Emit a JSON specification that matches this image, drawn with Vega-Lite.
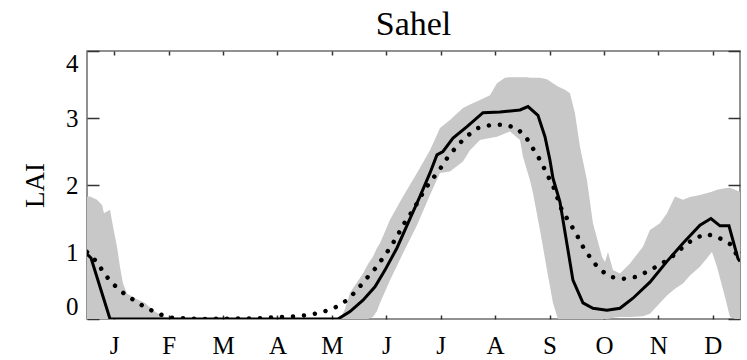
{
  "$schema": "https://vega.github.io/schema/vega-lite/v6.json",
  "width": 653,
  "height": 268,
  "autosize": {"type": "none"},
  "padding": {"left": 87, "top": 51, "right": 7, "bottom": 41},
  "background": "white",
  "title": {"text": "Sahel", "font": "Liberation Serif", "fontSize": 34, "fontWeight": "normal", "color": "black", "anchor": "middle", "baseline": "alphabetic", "offset": 15, "dy": 34},
  "config": {
    "view": {"stroke": "#6e6e6e", "strokeWidth": 1.5},
    "axis": {"labelFont": "Liberation Serif", "labelFontSize": 25, "labelColor": "black", "titleFont": "Liberation Serif", "titleFontSize": 27, "titleFontWeight": "normal", "titleColor": "black", "grid": false, "domain": false, "tickColor": "#333", "tickWidth": 1.5}
  },
  "datasets": {
    "band": [
      {"m": 0.000, "hi": 1.83, "lo": 0},
      {"m": 0.055, "hi": 1.83, "lo": 0},
      {"m": 0.184, "hi": 1.78, "lo": 0},
      {"m": 0.276, "hi": 1.70, "lo": 0},
      {"m": 0.312, "hi": 1.58, "lo": 0},
      {"m": 0.423, "hi": 1.63, "lo": 0},
      {"m": 0.478, "hi": 1.38, "lo": 0},
      {"m": 0.551, "hi": 1.08, "lo": 0},
      {"m": 0.606, "hi": 0.78, "lo": 0},
      {"m": 0.662, "hi": 0.53, "lo": 0},
      {"m": 0.735, "hi": 0.38, "lo": 0},
      {"m": 0.882, "hi": 0.31, "lo": 0},
      {"m": 1.066, "hi": 0.24, "lo": 0},
      {"m": 1.250, "hi": 0.11, "lo": 0},
      {"m": 1.433, "hi": 0.03, "lo": 0},
      {"m": 1.562, "hi": 0.00, "lo": 0},
      {"m": 4.649, "hi": 0.00, "lo": 0},
      {"m": 4.741, "hi": 0.15, "lo": 0},
      {"m": 4.833, "hi": 0.39, "lo": 0},
      {"m": 5.072, "hi": 0.68, "lo": 0},
      {"m": 5.164, "hi": 0.82, "lo": 0},
      {"m": 5.255, "hi": 0.93, "lo": 0.03},
      {"m": 5.329, "hi": 1.06, "lo": 0.12},
      {"m": 5.384, "hi": 1.13, "lo": 0.24},
      {"m": 5.568, "hi": 1.48, "lo": 0.58},
      {"m": 5.807, "hi": 1.83, "lo": 0.98},
      {"m": 6.064, "hi": 2.18, "lo": 1.40},
      {"m": 6.303, "hi": 2.52, "lo": 1.85},
      {"m": 6.487, "hi": 2.85, "lo": 2.18},
      {"m": 6.670, "hi": 2.97, "lo": 2.20},
      {"m": 6.909, "hi": 3.15, "lo": 2.35},
      {"m": 7.038, "hi": 3.20, "lo": 2.52},
      {"m": 7.222, "hi": 3.27, "lo": 2.67},
      {"m": 7.405, "hi": 3.34, "lo": 2.70},
      {"m": 7.534, "hi": 3.52, "lo": 2.72},
      {"m": 7.681, "hi": 3.60, "lo": 2.77},
      {"m": 7.773, "hi": 3.61, "lo": 2.80},
      {"m": 7.957, "hi": 3.61, "lo": 2.67},
      {"m": 8.012, "hi": 3.61, "lo": 2.42},
      {"m": 8.085, "hi": 3.61, "lo": 2.22},
      {"m": 8.140, "hi": 3.60, "lo": 2.07},
      {"m": 8.195, "hi": 3.60, "lo": 1.88},
      {"m": 8.324, "hi": 3.60, "lo": 1.33},
      {"m": 8.453, "hi": 3.58, "lo": 0.73},
      {"m": 8.563, "hi": 3.52, "lo": 0.24},
      {"m": 8.655, "hi": 3.47, "lo": 0},
      {"m": 8.784, "hi": 3.42, "lo": 0},
      {"m": 8.875, "hi": 3.37, "lo": 0},
      {"m": 8.967, "hi": 3.07, "lo": 0},
      {"m": 9.059, "hi": 2.57, "lo": 0},
      {"m": 9.188, "hi": 2.07, "lo": 0},
      {"m": 9.298, "hi": 1.43, "lo": 0},
      {"m": 9.464, "hi": 0.93, "lo": 0},
      {"m": 9.519, "hi": 0.85, "lo": 0},
      {"m": 9.574, "hi": 1.00, "lo": 0},
      {"m": 9.666, "hi": 0.73, "lo": 0.02},
      {"m": 9.794, "hi": 0.68, "lo": 0.03},
      {"m": 9.978, "hi": 0.83, "lo": 0.03},
      {"m": 10.217, "hi": 1.08, "lo": 0.04},
      {"m": 10.345, "hi": 1.33, "lo": 0.08},
      {"m": 10.529, "hi": 1.43, "lo": 0.24},
      {"m": 10.658, "hi": 1.58, "lo": 0.35},
      {"m": 10.805, "hi": 1.83, "lo": 0.45},
      {"m": 10.952, "hi": 1.78, "lo": 0.53},
      {"m": 11.081, "hi": 1.82, "lo": 0.65},
      {"m": 11.264, "hi": 1.85, "lo": 0.78},
      {"m": 11.485, "hi": 1.90, "lo": 1.00},
      {"m": 11.577, "hi": 1.93, "lo": 0.78},
      {"m": 11.724, "hi": 1.95, "lo": 0.33},
      {"m": 11.816, "hi": 1.96, "lo": 0.03},
      {"m": 11.908, "hi": 1.93, "lo": 0},
      {"m": 12.000, "hi": 1.90, "lo": 0}
    ],
    "solid": [
      {"m": 0.000, "v": 0.97},
      {"m": 0.074, "v": 0.91},
      {"m": 0.423, "v": 0},
      {"m": 4.612, "v": 0},
      {"m": 4.833, "v": 0.11},
      {"m": 5.072, "v": 0.28},
      {"m": 5.292, "v": 0.48},
      {"m": 5.476, "v": 0.73},
      {"m": 5.696, "v": 1.06},
      {"m": 5.899, "v": 1.43},
      {"m": 6.119, "v": 1.83},
      {"m": 6.303, "v": 2.18},
      {"m": 6.431, "v": 2.45},
      {"m": 6.542, "v": 2.50},
      {"m": 6.726, "v": 2.70},
      {"m": 6.983, "v": 2.87},
      {"m": 7.277, "v": 3.08},
      {"m": 7.589, "v": 3.09},
      {"m": 7.957, "v": 3.12},
      {"m": 8.104, "v": 3.17},
      {"m": 8.287, "v": 3.04},
      {"m": 8.416, "v": 2.72},
      {"m": 8.508, "v": 2.37},
      {"m": 8.563, "v": 2.10},
      {"m": 8.691, "v": 1.75},
      {"m": 8.820, "v": 1.12},
      {"m": 8.930, "v": 0.58},
      {"m": 9.114, "v": 0.24},
      {"m": 9.298, "v": 0.16},
      {"m": 9.555, "v": 0.13},
      {"m": 9.794, "v": 0.16},
      {"m": 10.033, "v": 0.31},
      {"m": 10.345, "v": 0.55},
      {"m": 10.658, "v": 0.86},
      {"m": 10.952, "v": 1.13},
      {"m": 11.264, "v": 1.40},
      {"m": 11.466, "v": 1.50},
      {"m": 11.632, "v": 1.39},
      {"m": 11.797, "v": 1.39},
      {"m": 11.963, "v": 0.90},
      {"m": 12.000, "v": 0.86}
    ],
    "dotted": [
      {"m": 0.000, "v": 1.00},
      {"m": 0.184, "v": 0.85},
      {"m": 0.331, "v": 0.66},
      {"m": 0.496, "v": 0.51},
      {"m": 0.680, "v": 0.38},
      {"m": 0.900, "v": 0.26},
      {"m": 1.103, "v": 0.16},
      {"m": 1.341, "v": 0.07},
      {"m": 1.544, "v": 0.02},
      {"m": 2.076, "v": 0.00},
      {"m": 3.179, "v": 0.01},
      {"m": 3.546, "v": 0.03},
      {"m": 3.822, "v": 0.04},
      {"m": 4.061, "v": 0.06},
      {"m": 4.318, "v": 0.10},
      {"m": 4.557, "v": 0.17},
      {"m": 4.778, "v": 0.28},
      {"m": 4.961, "v": 0.43},
      {"m": 5.108, "v": 0.58},
      {"m": 5.274, "v": 0.73},
      {"m": 5.439, "v": 0.91},
      {"m": 5.568, "v": 1.06},
      {"m": 5.696, "v": 1.23},
      {"m": 5.807, "v": 1.40},
      {"m": 5.954, "v": 1.58},
      {"m": 6.082, "v": 1.75},
      {"m": 6.211, "v": 1.94},
      {"m": 6.358, "v": 2.10},
      {"m": 6.505, "v": 2.26},
      {"m": 6.634, "v": 2.42},
      {"m": 6.799, "v": 2.58},
      {"m": 6.964, "v": 2.72},
      {"m": 7.185, "v": 2.85},
      {"m": 7.442, "v": 2.90},
      {"m": 7.663, "v": 2.90},
      {"m": 7.901, "v": 2.85},
      {"m": 8.085, "v": 2.69},
      {"m": 8.214, "v": 2.52},
      {"m": 8.343, "v": 2.35},
      {"m": 8.453, "v": 2.16},
      {"m": 8.563, "v": 1.99},
      {"m": 8.728, "v": 1.62},
      {"m": 8.875, "v": 1.43},
      {"m": 9.004, "v": 1.25},
      {"m": 9.114, "v": 1.08},
      {"m": 9.261, "v": 0.90},
      {"m": 9.408, "v": 0.75},
      {"m": 9.610, "v": 0.63},
      {"m": 9.849, "v": 0.60},
      {"m": 10.107, "v": 0.63},
      {"m": 10.327, "v": 0.72},
      {"m": 10.548, "v": 0.82},
      {"m": 10.750, "v": 0.93},
      {"m": 10.934, "v": 1.06},
      {"m": 11.136, "v": 1.19},
      {"m": 11.375, "v": 1.27},
      {"m": 11.595, "v": 1.22},
      {"m": 11.816, "v": 1.12},
      {"m": 11.963, "v": 0.93}
    ]
  },
  "layer": [
    {
      "layer": [
        {
          "data": {"name": "band"},
          "mark": {"type": "area", "color": "#c8c8c8", "clip": true},
          "encoding": {
            "x": {"field": "m", "type": "quantitative", "scale": {"domain": [0, 12], "nice": false, "zero": false},
              "axis": {"orient": "bottom", "values": [0.5,1.5,2.5,3.5,4.5,5.5,6.5,7.5,8.5,9.5,10.5,11.5], "labelExpr": "['J','F','M','A','M','J','J','A','S','O','N','D'][floor(datum.value)]", "tickSize": -4, "labelPadding": 18, "title": null}},
            "y": {"field": "hi", "type": "quantitative", "scale": {"domain": [0, 4], "nice": false},
              "axis": {"orient": "left", "values": [0,1,2,3,4], "format": "d", "tickSize": -12, "labelPadding": 21, "labelFlush": true, "title": "LAI", "titlePadding": 16}},
            "y2": {"field": "lo"}
          }
        },
        {
          "data": {"name": "solid"},
          "mark": {"type": "line", "color": "black", "strokeWidth": 3, "clip": true},
          "encoding": {
            "x": {"field": "m", "type": "quantitative"},
            "y": {"field": "v", "type": "quantitative"}
          }
        },
        {
          "data": {"name": "dotted"},
          "mark": {"type": "line", "color": "black", "strokeWidth": 4.5, "strokeCap": "round", "strokeDash": [0.01, 11], "clip": true},
          "encoding": {
            "x": {"field": "m", "type": "quantitative"},
            "y": {"field": "v", "type": "quantitative"}
          }
        }
      ]
    },
    {
      "data": {"name": "dotted"},
      "mark": {"type": "line", "opacity": 0},
      "encoding": {
        "x": {"field": "m", "type": "quantitative",
          "axis": {"orient": "top", "values": [0.5,1.5,2.5,3.5,4.5,5.5,6.5,7.5,8.5,9.5,10.5,11.5], "labels": false, "tickSize": -4, "title": null}},
        "y": {"field": "v", "type": "quantitative",
          "axis": {"orient": "right", "values": [0,1,2,3,4], "labels": false, "tickSize": -12, "title": null}}
      }
    }
  ],
  "resolve": {"axis": {"x": "independent", "y": "independent"}}
}
